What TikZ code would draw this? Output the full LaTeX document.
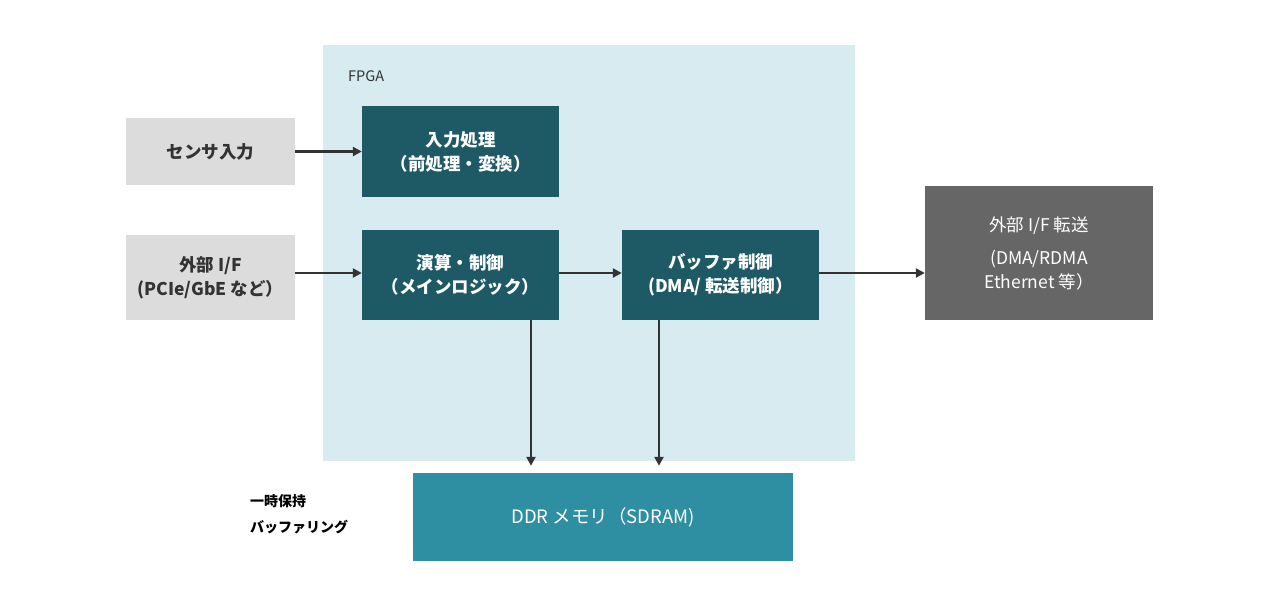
\documentclass[tikz,border=0pt]{standalone}
\usepackage{fontspec}
\setmainfont{Noto Sans CJK JP}
\usetikzlibrary{arrows.meta,positioning}
\definecolor{fpgabg}{HTML}{D7EBF0}
\definecolor{teal1}{HTML}{1E5A66}
\definecolor{ddrc}{HTML}{2E8FA2}
\definecolor{lgray}{HTML}{DCDCDC}
\definecolor{dgray}{HTML}{666666}
\definecolor{ink}{HTML}{333333}
\tikzset{
  box/.style={rectangle, inner sep=0pt, align=center, font=\fontsize{17.5}{24}\selectfont\bfseries},
  graybox/.style={box, fill=lgray, text=ink},
  tealbox/.style={box, fill=teal1, text=white},
  arr/.style={draw=ink, line width=2.4pt, -{Triangle[length=9pt,width=9pt]}},
  note/.style={anchor=west, inner sep=0pt, font=\fontsize{14}{14}\selectfont\bfseries, text=black}
}
\begin{document}
\begin{tikzpicture}[x=1pt,y=-1pt]
\useasboundingbox (0,0) rectangle (1280,608);
\fill[fpgabg] (323,45) rectangle (855,461);
\node[anchor=west, inner sep=0pt, font=\fontsize{14.5}{15}\selectfont, text=ink] (fpga) at (348,76) {FPGA};

\node[graybox, minimum width=169pt, minimum height=67pt] (sensor) at (210.5,151.5) {センサ入力};
\node[graybox, minimum width=169pt, minimum height=85pt] (ext) at (210.5,277.5) {外部 I/F\\(PCIe/GbE など）};

\node[tealbox, minimum width=197pt, minimum height=91pt] (inp) at (460.5,151.5) {入力処理\\（前処理・変換）};
\node[tealbox, minimum width=197pt, minimum height=90pt] (calc) at (460.5,275) {演算・制御\\（メインロジック）};
\node[tealbox, minimum width=197pt, minimum height=90pt] (buf) at (720.5,275) {バッファ制御\\(DMA/ 転送制御）};

\node[box, fill=dgray, text=white, minimum width=228pt, minimum height=134pt, font=\fontsize{17.5}{24}\selectfont] (out) at (1039,253) {外部 I/F 転送\\[9pt](DMA/RDMA\\Ethernet 等）};

\node[box, fill=ddrc, text=white, minimum width=380pt, minimum height=88pt, font=\fontsize{18.5}{24}\selectfont] (ddr) at (603,517) {DDR メモリ（SDRAM)};

\node[note] (n1) at (250,501) {一時保持};
\node[note] (n2) at (250,527) {バッファリング};

\draw[arr] (sensor.east) -- (inp.west);
\draw[arr] (ext.east |- 0,273) -- (calc.west |- 0,273);
\draw[arr] (calc.east |- 0,273) -- (buf.west |- 0,273);
\draw[arr] (buf.east |- 0,273) -- (out.west |- 0,273);
\draw[arr, shorten >=7pt] ([xshift=70.5pt]calc.south) -- ([xshift=70.5pt]calc.south |- ddr.north);
\draw[arr, shorten >=7pt] ([xshift=-61.5pt]buf.south) -- ([xshift=-61.5pt]buf.south |- ddr.north);
\end{tikzpicture}
\end{document}
